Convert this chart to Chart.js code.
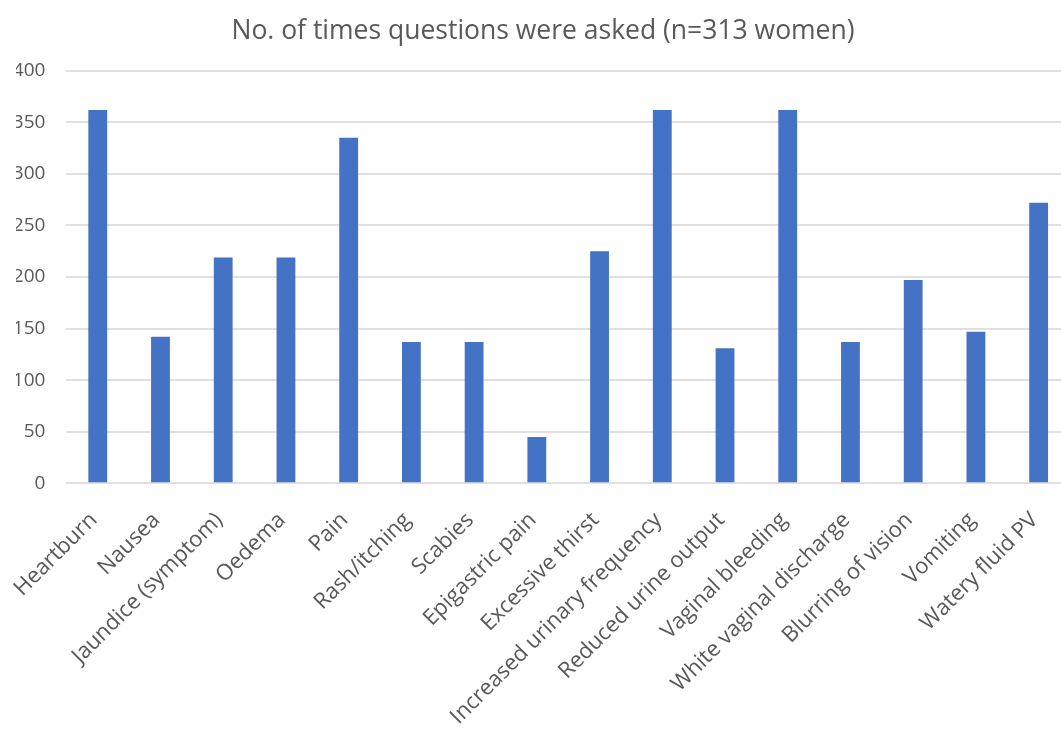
<!DOCTYPE html>
<html>
<head>
<meta charset="utf-8">
<script src="https://cdn.jsdelivr.net/npm/chart.js@4"></script>
<style>
  html, body { margin: 0; padding: 0; background: #ffffff; overflow: hidden; }
  #wrap { position: relative; width: 1070px; height: 731px; }
</style>
</head>
<body>
<div id="wrap"><canvas id="chart"></canvas></div>
<script>
// Symptoms asked about and how many times each question was asked
const categories = [
  'Heartburn', 'Nausea', 'Jaundice (symptom)', 'Oedema', 'Pain', 'Rash/itching',
  'Scabies', 'Epigastric pain', 'Excessive thirst', 'Increased urinary frequency',
  'Reduced urine output', 'Vaginal bleeding', 'White vaginal discharge',
  'Blurring of vision', 'Vomiting', 'Watery fluid PV'
];
const timesAsked = [362, 142, 219, 219, 335, 137, 137, 45, 225, 362, 131, 362, 137, 197, 147, 272];
const yTicks = [0, 50, 100, 150, 200, 250, 300, 350, 400];

const titleText = 'No. of times questions were asked (n=313 women)';
const textGray = '#595959';
const gridGray = '#e0e0e0';
const barBlue = '#4472C4';

new Chart(document.getElementById('chart'), {
  type: 'bar',
  data: {
    labels: categories,
    datasets: [{
      data: timesAsked,
      backgroundColor: barBlue,
      borderWidth: 0,
      barPercentage: 0.3,
      categoryPercentage: 1.0
    }]
  },
  options: {
    responsive: true,
    maintainAspectRatio: false,
    animation: false,
    layout: { padding: { left: 16, right: 0, top: 0, bottom: 0 } },
    plugins: {
      legend: { display: false },
      tooltip: { enabled: false },
      title: {
        display: true,
        text: titleText,
        color: textGray,
        font: { family: 'Open Sans', size: 26.5, weight: 'normal', lineHeight: 1.2 },
        padding: { top: 16, bottom: 22.9 }
      }
    },
    scales: {
      x: {
        grid: { display: false, drawTicks: false },
        border: { display: false },
        ticks: {
          color: textGray,
          font: { family: 'Open Sans', size: 22 },
          minRotation: 45,
          maxRotation: 45,
          autoSkip: false,
          labelOffset: -4,
          padding: 24
        },
        afterFit(scale) {
          scale.height = 731 - 483.3;
          scale.paddingLeft = 0;
          scale.paddingRight = 0;
        }
      },
      y: {
        min: 0,
        max: 400,
        afterBuildTicks(scale) { scale.ticks = yTicks.map(v => ({ value: v })); },
        grid: { color: gridGray, lineWidth: 2, drawTicks: false, tickLength: 0 },
        border: { display: false },
        ticks: {
          color: textGray,
          font: { family: 'Open Sans', size: 19 },
          padding: 21
        },
        afterFit(scale) {
          scale.width = 66.4 - 16;
          scale.paddingTop = 0;
          scale.paddingBottom = 0;
        }
      }
    }
  }
});
</script>
</body>
</html>
